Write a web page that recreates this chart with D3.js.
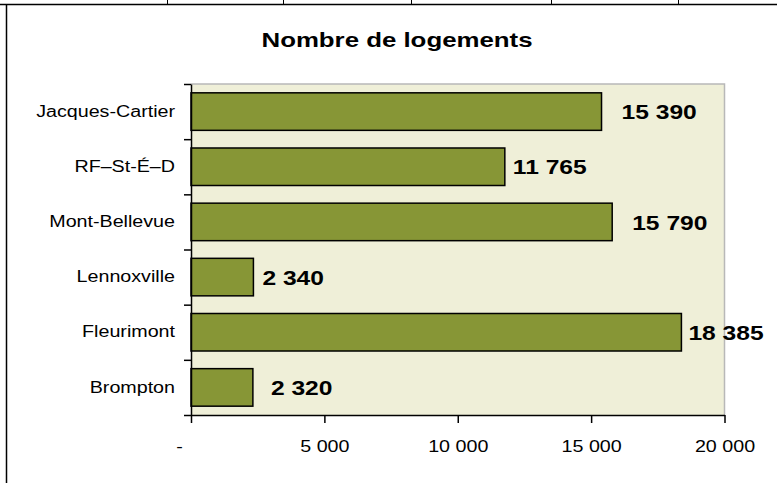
<!DOCTYPE html>
<html>
<head>
<meta charset="utf-8">
<script src="https://cdn.jsdelivr.net/npm/d3@7"></script>
<style>
  body { margin: 0; background: white; }
  text { font-family: "Liberation Sans", Arial, sans-serif; fill: black; }
</style>
</head>
<body>
<div class="chart"></div>
<script>
// data
let districts = ["Jacques-Cartier", "RF\u2013St-\u00C9\u2013D", "Mont-Bellevue", "Lennoxville", "Fleurimont", "Brompton"];
let logements = [15390, 11765, 15790, 2340, 18385, 2320];
let xTicks = [0, 5000, 10000, 15000, 20000];
let labelGap = [20, 8, 20, 9, 7, 18]; // labels were nudged by hand in the original

let W = 777, H = 483;
let stretch = 1.23; // the fonts in the picture are wide

let plot = {left: 191, right: 724.5, top: 84, bottom: 415};

let svg = d3.select(".chart")
    .append("svg")
    .attr("width", W)
    .attr("height", H);

// sheet grid + chart frame
svg.append("line")
    .attr("x1", 0).attr("x2", W).attr("y1", 4.5).attr("y2", 4.5)
    .attr("stroke", "black").attr("stroke-width", 1.5);
svg.append("line")
    .attr("x1", 6.5).attr("x2", 6.5).attr("y1", 4).attr("y2", H)
    .attr("stroke", "black").attr("stroke-width", 1.5);
[167, 283, 411, 551, 678].forEach(function(gx) {
    svg.append("line")
        .attr("x1", gx + 0.5).attr("x2", gx + 0.5).attr("y1", 0).attr("y2", 4)
        .attr("stroke", "black").attr("stroke-width", 1);
});

let fmt = d3.formatLocale({decimal: ",", thousands: " ", grouping: [3], currency: ["", ""]}).format(",");

let x = d3.scaleLinear()
    .domain([0, 20000])
    .range([plot.left, plot.right]);

let y = d3.scaleBand()
    .domain(districts)
    .range([plot.top, plot.bottom])
    .paddingInner(0.32)
    .paddingOuter(0.16);

// band edges, for the y ticks
let yEdge = d3.scaleLinear()
    .domain([0, districts.length])
    .range([plot.top, plot.bottom]);

// plot background
svg.append("rect")
    .attr("x", plot.left)
    .attr("y", plot.top)
    .attr("width", plot.right - plot.left)
    .attr("height", plot.bottom - plot.top)
    .attr("fill", "#EFEFD8");

svg.append("path")
    .attr("d", "M" + plot.left + "," + plot.top + "H" + plot.right + "V" + plot.bottom)
    .attr("fill", "none")
    .attr("stroke", "#B8B8B8")
    .attr("stroke-width", 1.5);

// title
svg.append("text")
    .attr("transform", "translate(397,46.5) scale(" + stretch + ",1)")
    .attr("text-anchor", "middle")
    .style("font-size", "21px")
    .style("font-weight", "bold")
    .text("Nombre de logements");

// bars
svg.selectAll(".bar")
    .data(districts)
    .enter()
    .append("rect")
    .attr("class", "bar")
    .attr("x", x(0))
    .attr("y", function(d) { return y(d); })
    .attr("width", function(d, i) { return x(logements[i]) - x(0); })
    .attr("height", y.bandwidth())
    .attr("fill", "#879636")
    .attr("stroke", "black")
    .attr("stroke-width", 1.5);

// value labels
svg.selectAll(".val")
    .data(districts)
    .enter()
    .append("text")
    .attr("class", "val")
    .attr("transform", function(d, i) {
        return "translate(" + (x(logements[i]) + labelGap[i]) + "," + (y(d) + y.bandwidth() / 2) + ") scale(" + stretch + ",1)";
    })
    .attr("dy", "0.38em")
    .style("font-size", "20px")
    .style("font-weight", "bold")
    .text(function(d, i) { return fmt(logements[i]); });

// x axis
let xAxis = svg.append("g")
    .attr("transform", "translate(0," + plot.bottom + ")")
    .call(d3.axisBottom(x)
        .tickValues(xTicks)
        .tickSize(8)
        .tickSizeOuter(0)
        .tickPadding(18)
        .tickFormat(function(d) { return d == 0 ? "-" : fmt(d); }));

xAxis.selectAll("text")
    .attr("transform", function(d) { return (d == 0 ? "translate(-12,0) " : "") + "scale(" + stretch + ",1)"; })
    .style("font-size", "16px")
    .style("font-family", "Liberation Sans, Arial, sans-serif");

// y ticks at band edges
svg.append("g")
    .attr("transform", "translate(" + plot.left + ",0)")
    .call(d3.axisLeft(yEdge)
        .tickValues(d3.range(districts.length + 1))
        .tickSize(7)
        .tickSizeOuter(0)
        .tickFormat(""));

// y labels
let yAxis = svg.append("g")
    .attr("transform", "translate(" + plot.left + ",0)")
    .call(d3.axisLeft(y).tickSize(0).tickPadding(16));

yAxis.select(".domain").remove();
yAxis.selectAll("text")
    .attr("transform", function() { return "translate(" + d3.select(this).attr("x") + ",0) scale(" + stretch + ",1)"; })
    .attr("x", 0)
    .style("font-size", "16px")
    .style("font-family", "Liberation Sans, Arial, sans-serif");

svg.selectAll(".domain, .tick line")
    .attr("stroke", "black")
    .attr("stroke-width", 1.5);
</script>
</body>
</html>
